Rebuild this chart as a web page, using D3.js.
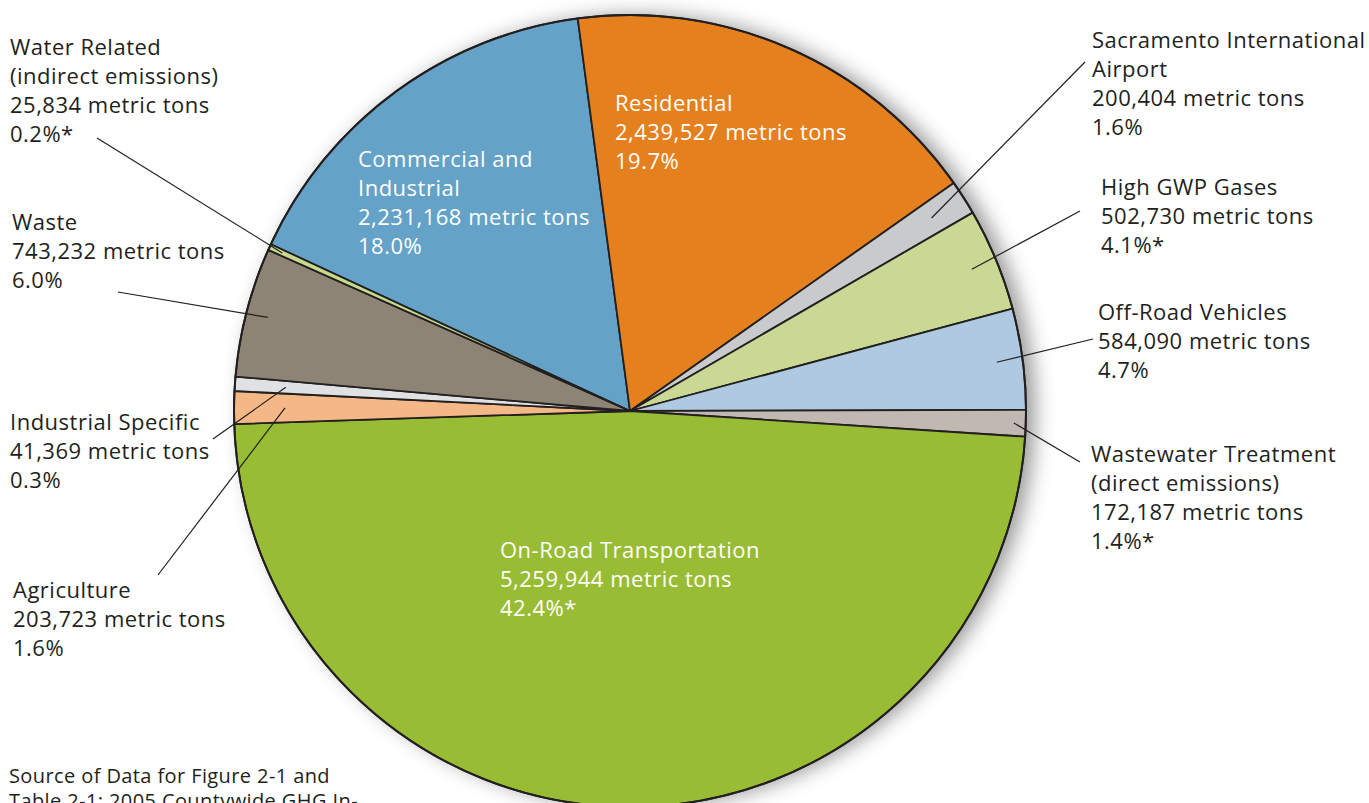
<!DOCTYPE html>
<html>
<head>
<meta charset="utf-8">
<script src="https://cdn.jsdelivr.net/npm/d3@7"></script>
<style>
  html, body { margin: 0; padding: 0; background: #fff; }
  svg { display: block; }
  text { font-family: "Open Sans", Lato, sans-serif; }
</style>
</head>
<body>
<div id="chart"></div>
<script>
// slices in drawing order, clockwise from the Commercial/Water boundary
const categories = ["Commercial and Industrial", "Residential", "Sacramento International Airport",
  "High GWP Gases", "Off-Road Vehicles", "Wastewater Treatment (direct emissions)",
  "On-Road Transportation", "Agriculture", "Industrial Specific", "Waste",
  "Water Related (indirect emissions)"]
const nameLines = [["Commercial and", "Industrial"], ["Residential"], ["Sacramento International", "Airport"],
  ["High GWP Gases"], ["Off-Road Vehicles"], ["Wastewater Treatment", "(direct emissions)"],
  ["On-Road Transportation"], ["Agriculture"], ["Industrial Specific"], ["Waste"],
  ["Water Related", "(indirect emissions)"]]
const tons = [2231168, 2439527, 200404, 502730, 584090, 172187, 5259944, 203723, 41369, 743232, 25834]
const pctLabels = ["18.0%", "19.7%", "1.6%", "4.1%*", "4.7%", "1.4%*", "42.4%*", "1.6%", "0.3%", "6.0%", "0.2%*"]
// share of the circle each slice takes as it is drawn in the figure (percent)
const drawnShare = [15.97, 17.33, 1.42, 4.19, 4.11, 1.08, 48.42, 1.33, 0.58, 5.28, 0.25]
const colors = ["#64a2c8", "#e5801e", "#c9cacc", "#c9d994", "#aec9e0", "#c0b8b1",
  "#98bc33", "#f3b885", "#e0e1e3", "#8d8475", "#c7da8c"]
const sourceNote = ["Source of Data for Figure 2-1 and", "Table 2-1: 2005 Countywide GHG In-"]

const width = 1369, height = 803
const cx = 630, cy = 411, radius = 396
const startDeg = -65.1

// label layout: inside = white text on the slice, otherwise outside with a leader line
const labelLayout = [
  { x: 358, y: 167, inside: true },
  { x: 615, y: 111, inside: true },
  { x: 1092, y: 48, lx: 1085, ly: 62, r: 358 },
  { x: 1101, y: 195, lx: 1080, ly: 211, r: 370 },
  { x: 1098, y: 320, lx: 1093, ly: 339, r: 370 },
  { x: 1091, y: 462, lx: 1080, ly: 462, r: 384 },
  { x: 500, y: 558, inside: true },
  { x: 13, y: 598, lx: 158, ly: 575, r: 345 },
  { x: 10, y: 430, lx: 213, ly: 439, r: 345 },
  { x: 12, y: 230, lx: 118, ly: 292, r: 374 },
  { x: 10, y: 55, lx: 97, ly: 138, r: 382 }
]
const lineH = 29

const fmt = d3.format(",")

const svg = d3.select("#chart").append("svg")
    .attr("width", width)
    .attr("height", height)

const defs = svg.append("defs")
const shadow = defs.append("filter")
    .attr("id", "shadow")
    .attr("x", "-20%").attr("y", "-20%")
    .attr("width", "140%").attr("height", "140%")
shadow.append("feDropShadow")
    .attr("dx", 9).attr("dy", 0)
    .attr("stdDeviation", 10)
    .attr("flood-color", "#000")
    .attr("flood-opacity", 0.4)

const pie = d3.pie()
    .sort(null)
    .value(d => d)
    .startAngle(startDeg * Math.PI / 180)
    .endAngle(startDeg * Math.PI / 180 + 2 * Math.PI)

const arcs = pie(drawnShare)
const arc = d3.arc().innerRadius(0).outerRadius(radius)

const g = svg.append("g").attr("transform", `translate(${cx},${cy})`)

g.append("circle")
    .attr("r", radius)
    .attr("fill", "#fff")
    .attr("filter", "url(#shadow)")

g.selectAll("path.slice")
  .data(arcs)
  .join("path")
    .attr("class", "slice")
    .attr("d", arc)
    .attr("fill", (d, i) => colors[i])
    .attr("stroke", "#231f20")
    .attr("stroke-width", 1.8)
    .attr("stroke-linejoin", "round")

g.append("circle")
    .attr("r", radius)
    .attr("fill", "none")
    .attr("stroke", "#231f20")
    .attr("stroke-width", 2)

// leader lines
arcs.forEach((d, i) => {
  const L = labelLayout[i]
  if (L.inside) return
  const inner = d3.arc().innerRadius(L.r).outerRadius(L.r).centroid(d)
  svg.append("line")
      .attr("x1", L.lx).attr("y1", L.ly)
      .attr("x2", cx + inner[0]).attr("y2", cy + inner[1])
      .attr("stroke", "#231f20")
      .attr("stroke-width", 1.2)
})

// labels
categories.forEach((c, i) => {
  const L = labelLayout[i]
  const lines = nameLines[i].concat([fmt(tons[i]) + " metric tons", pctLabels[i]])
  const t = svg.append("text")
      .attr("x", L.x)
      .attr("y", L.y)
      .attr("font-size", 22)
      .attr("letter-spacing", 0.5)
      .attr("fill", L.inside ? "#fff" : "#231f20")
  lines.forEach((s, k) => {
    t.append("tspan")
        .attr("x", L.x)
        .attr("y", L.y + k * lineH)
        .text(s)
  })
})

const src = svg.append("text")
    .attr("font-size", 20)
    .attr("letter-spacing", 0.4)
    .attr("fill", "#231f20")
sourceNote.forEach((s, k) => {
  src.append("tspan")
      .attr("x", 9)
      .attr("y", 783 + k * 25)
      .text(s)
})
</script>
</body>
</html>
